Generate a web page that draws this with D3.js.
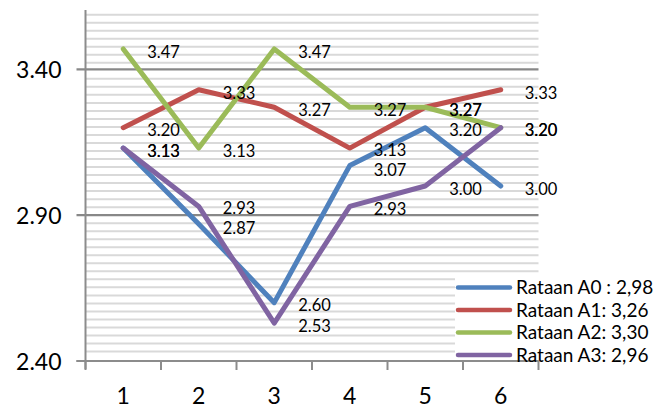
<!DOCTYPE html>
<html>
<head>
<meta charset="utf-8">
<script src="https://cdn.jsdelivr.net/npm/d3@7"></script>
<style>
  html, body { margin: 0; padding: 0; background: #fff; }
  svg { display: block; font-family: Lato, "Liberation Sans", sans-serif; }
</style>
</head>
<body>
<svg id="chart" width="672" height="409"></svg>
<script>
// Categories (x axis)
const categories = ["1", "2", "3", "4", "5", "6"];

// Series values
const seriesNames = ["Rataan A0 : 2,98", "Rataan A1: 3,26", "Rataan A2: 3,30", "Rataan A3: 2,96"];
const valuesA0 = [3.13, 2.87, 2.60, 3.07, 3.20, 3.00];
const valuesA1 = [3.20, 3.33, 3.27, 3.13, 3.27, 3.33];
const valuesA2 = [3.47, 3.13, 3.47, 3.27, 3.27, 3.20];
const valuesA3 = [3.13, 2.93, 2.53, 2.93, 3.00, 3.20];
const seriesColors = ["#4f81bd", "#c0504d", "#9bbb59", "#8064a2"];

// Value axis
const yMin = 2.40, yMax = 3.60;
const yMajorTicks = [2.40, 2.90, 3.40];
const yMinorStep = 0.0275;

const series = [valuesA0, valuesA1, valuesA2, valuesA3].map((v, i) => ({
  name: seriesNames[i], color: seriesColors[i], values: v
}));

const svg = d3.select("#chart");
const plot = { left: 85.5, right: 538.5, top: 11, bottom: 361 };

const x = d3.scaleBand().domain(categories).range([plot.left, plot.right]).padding(0);
const cx = c => x(c) + x.bandwidth() / 2;
const y = d3.scaleLinear().domain([yMin, yMax]).range([plot.bottom, plot.top]);

// Minor gridlines
const minorTicks = d3.range(-18, 26).map(k => 2.90 + k * yMinorStep)
  .filter(v => v >= yMin - 1e-9 && v <= yMax && !yMajorTicks.some(m => Math.abs(m - v) < 0.005));
svg.append("g")
  .selectAll("line").data(minorTicks).join("line")
  .attr("x1", plot.left).attr("x2", plot.right)
  .attr("y1", d => y(d)).attr("y2", d => y(d))
  .attr("stroke", "#d9d9d9").attr("stroke-width", 2);

// Major gridlines with tick marks on the left
svg.append("g")
  .selectAll("line").data(yMajorTicks).join("line")
  .attr("x1", plot.left - 9).attr("x2", plot.right)
  .attr("y1", d => y(d)).attr("y2", d => y(d))
  .attr("stroke", "#888888").attr("stroke-width", 2.2);

// Y axis labels
const yAxis = d3.axisLeft(y).tickValues(yMajorTicks).tickFormat(d3.format(".2f")).tickSize(0).tickPadding(24);
const gy = svg.append("g").attr("transform", `translate(${plot.left},0)`).call(yAxis);
gy.select(".domain").remove();
gy.selectAll("text").attr("font-size", 23).attr("fill", "#000").attr("font-family", "Lato, sans-serif").attr("dy", "0.35em");

// Y axis line
svg.append("line")
  .attr("x1", plot.left).attr("x2", plot.left)
  .attr("y1", plot.top - 1).attr("y2", plot.bottom + 8)
  .attr("stroke", "#8c8c8c").attr("stroke-width", 2);

// X axis
const xAxis = d3.axisBottom(x).tickSize(0).tickPadding(27);
const gx = svg.append("g").attr("transform", `translate(0,${plot.bottom})`).call(xAxis);
gx.select(".domain").remove();
gx.selectAll("text").attr("font-size", 23).attr("fill", "#000").attr("font-family", "Lato, sans-serif");

svg.append("line")
  .attr("x1", plot.left - 9).attr("x2", plot.right)
  .attr("y1", plot.bottom).attr("y2", plot.bottom)
  .attr("stroke", "#8c8c8c").attr("stroke-width", 2.2);

// Category boundary tick marks
const boundaries = categories.map(c => x(c)).concat([x(categories[categories.length - 1]) + x.bandwidth()]);
svg.append("g")
  .selectAll("line").data(boundaries).join("line")
  .attr("x1", d => d).attr("x2", d => d)
  .attr("y1", plot.bottom).attr("y2", plot.bottom + 9)
  .attr("stroke", "#8c8c8c").attr("stroke-width", 2);

// Series lines
const line = d3.line().x((d, i) => cx(categories[i])).y(d => y(d));
svg.append("g")
  .selectAll("path").data(series).join("path")
  .attr("d", d => line(d.values))
  .attr("fill", "none")
  .attr("stroke", d => d.color)
  .attr("stroke-width", 5)
  .attr("stroke-linecap", "round")
  .attr("stroke-linejoin", "round");

// Data labels (right of each point); labels of one category that sit too
// close are pushed apart, equal values stay stacked on each other
const labels = [];
series.forEach(s => s.values.forEach((v, i) => labels.push({ v, c: categories[i], ly: y(s.values[i]) + 3 })));
const minGap = 20;
categories.forEach(c => {
  const groups = [];
  labels.filter(l => l.c === c).forEach(l => {
    const g = groups.find(g => Math.abs(g.v - l.v) < 1e-9);
    if (g) g.items.push(l); else groups.push({ v: l.v, ly: l.ly, items: [l] });
  });
  groups.sort((a, b) => a.ly - b.ly);
  for (let iter = 0; iter < 20; iter++) {
    for (let k = 1; k < groups.length; k++) {
      const gap = groups[k].ly - groups[k - 1].ly;
      if (gap < minGap) {
        const d = (minGap - gap) / 2;
        groups[k - 1].ly -= d;
        groups[k].ly += d;
      }
    }
  }
  groups.forEach(g => g.items.forEach(l => { l.ly = g.ly; }));
});
svg.append("g")
  .selectAll("text").data(labels).join("text")
  .attr("x", d => cx(d.c) + 24)
  .attr("y", d => d.ly)
  .attr("dy", "0.35em")
  .attr("font-size", 16.5)
  .attr("fill", "#000")
  .text(d => d.v.toFixed(2));

// Legend
const legend = svg.append("g");
legend.append("rect")
  .attr("x", 455).attr("y", 276).attr("width", 217).attr("height", 84)
  .attr("fill", "#fff");
const legendRowY = d3.scalePoint().domain(seriesNames).range([287.5, 355]);
const items = legend.selectAll("g.item").data(series).join("g").attr("class", "item");
items.append("line")
  .attr("x1", 458).attr("x2", 510)
  .attr("y1", d => legendRowY(d.name)).attr("y2", d => legendRowY(d.name))
  .attr("stroke", d => d.color).attr("stroke-width", 4.5).attr("stroke-linecap", "round");
items.append("text")
  .attr("x", 516).attr("y", d => legendRowY(d.name))
  .attr("dy", "0.35em")
  .attr("font-size", 19)
  .attr("fill", "#000")
  .text(d => d.name);
</script>
</body>
</html>
